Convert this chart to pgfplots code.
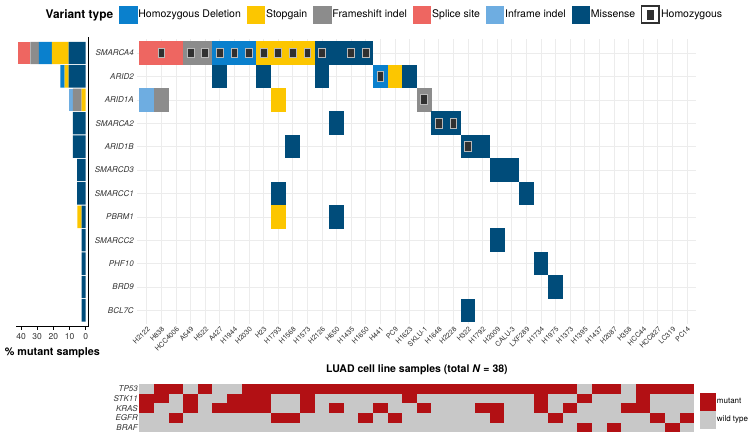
\documentclass[border=0pt]{standalone}
\usepackage{fontspec}
\setmainfont{TeX Gyre Heros}
\usepackage{pgfplots}
\pgfplotsset{compat=1.18}
\usepackage{pgfplotstable}

\definecolor{hdel}{RGB}{10,128,205}
\definecolor{stopg}{RGB}{252,198,0}
\definecolor{fshift}{RGB}{140,140,140}
\definecolor{splice}{RGB}{238,102,97}
\definecolor{infr}{RGB}{110,173,225}
\definecolor{miss}{RGB}{0,76,122}
\definecolor{homfill}{RGB}{48,48,48}
\definecolor{homedge}{RGB}{185,185,185}
\definecolor{mut}{RGB}{178,16,20}
\definecolor{wt}{RGB}{200,200,200}

% tiles in pt, one unit of the axes
\pgfdeclareplotmark{tile}{\pgfpathrectangle{\pgfpoint{-7.4pt}{-11.8pt}}{\pgfpoint{14.8pt}{23.6pt}}\pgfusepathqfill}
\pgfdeclareplotmark{hom}{\pgfpathrectangle{\pgfpoint{-3.4pt}{-4.9pt}}{\pgfpoint{6.8pt}{9.8pt}}\pgfusepathqfillstroke}
\pgfdeclareplotmark{htile}{\pgfpathrectangle{\pgfpoint{-7.4pt}{-4.9pt}}{\pgfpoint{14.8pt}{9.8pt}}\pgfusepathqfill}

\pgfplotstableread{
s TP53 STK11 KRAS EGFR BRAF
1 0 1 1 0 0
2 1 1 0 0 0
3 1 0 0 1 0
4 0 1 1 0 0
5 1 0 0 0 0
6 0 0 1 0 0
7 0 1 1 0 0
8 1 1 1 0 0
9 1 1 1 0 0
10 1 0 0 1 0
11 1 0 0 1 0
12 1 1 1 0 0
13 1 0 0 0 0
14 1 0 1 0 0
15 1 0 0 0 0
16 1 0 0 1 0
17 1 0 1 0 0
18 1 0 0 1 0
19 1 1 0 0 0
20 1 0 1 0 0
21 1 0 0 0 0
22 1 0 0 0 0
23 1 0 0 0 0
24 1 0 1 0 0
25 1 0 1 1 0
26 1 0 0 0 0
27 1 0 0 0 0
28 1 1 1 0 0
29 1 0 0 1 0
30 1 0 1 0 0
31 0 1 0 0 1
32 1 0 0 0 0
33 1 0 0 0 1
34 0 0 1 0 0
35 1 1 1 0 0
36 1 0 0 1 0
37 1 0 0 0 1
38 1 0 0 1 0
}\muttab

\pgfplotsset{
  hm/.style={scatter, only marks, scatter src=explicit symbolic,
    scatter/classes={0={mark=htile, fill=wt, draw=wt}, 1={mark=htile, fill=mut, draw=mut}}},
}

\begin{document}
\begin{tikzpicture}
\useasboundingbox (0,0) rectangle (753pt,438pt);

% ---- % mutant samples ----
\begin{axis}[
  at={(88.7pt,401.1pt)}, anchor=north east,
  x=1.617pt, y=23.4pt, x dir=reverse,
  xmin=-1.85, xmax=43.1, ymin=0.31, ymax=12.69,
  xbar stacked, bar width=22.4pt,
  axis line style={draw=none},
  xtick={0,10,20,30,40}, ytick=\empty, xtick pos=left,
  extra x ticks={-1.85}, extra x tick labels={},
  extra x tick style={xmajorgrids, major tick length=0pt,
    major grid style={black, line width=0.8pt}},
  extra y ticks={0.31}, extra y tick labels={},
  extra y tick style={ymajorgrids, major tick length=0pt,
    major grid style={black, line width=0.8pt}},
  tick align=outside, major tick length=3pt,
  tick style={black, line width=0.6pt},
  /pgf/number format/assume math mode=true,
  xticklabel style={font=\fontsize{8.5}{8.5}\selectfont, text=black!80},
  xlabel={\bfseries\% mutant samples},
  xlabel style={font=\fontsize{10.8}{10.8}\selectfont, yshift=2pt},
]
\addplot[fill=miss, draw=none] coordinates {(10.5,12)(10.5,11)(0,10)(7.9,9)(7.9,8)(5.3,7)(5.3,6)(2.6,5)(2.6,4)(2.6,3)(2.6,2)(2.6,1)};
\addplot[fill=stopg, draw=none] coordinates {(10.5,12)(2.6,11)(2.6,10)(0,9)(0,8)(0,7)(0,6)(2.6,5)(0,4)(0,3)(0,2)(0,1)};
\addplot[fill=hdel, draw=none] coordinates {(7.9,12)(2.6,11)(0,10)(0,9)(0,8)(0,7)(0,6)(0,5)(0,4)(0,3)(0,2)(0,1)};
\addplot[fill=fshift, draw=none] coordinates {(5.3,12)(0,11)(5.3,10)(0,9)(0,8)(0,7)(0,6)(0,5)(0,4)(0,3)(0,2)(0,1)};
\addplot[fill=splice, draw=none] coordinates {(7.9,12)(0,11)(0,10)(0,9)(0,8)(0,7)(0,6)(0,5)(0,4)(0,3)(0,2)(0,1)};
\addplot[fill=infr, draw=none] coordinates {(0,12)(0,11)(2.6,10)(0,9)(0,8)(0,7)(0,6)(0,5)(0,4)(0,3)(0,2)(0,1)};
\end{axis}

% ---- main oncoprint ----
\begin{axis}[
  at={(137.3pt,399pt)}, anchor=north west,
  x=14.6pt, y=23.4pt, y dir=reverse,
  xmin=0.35, xmax=38.6, ymin=0.4, ymax=12.6,
  axis line style={draw=none},
  xmajorgrids, ymajorgrids,
  major grid style={gray!15, line width=0.6pt},
  major tick length=0pt,
  xtick={1,...,38}, ytick={1,...,12},
  xticklabels={H2122,H838,HCC4006,A549,H522,A427,H1944,H2030,H23,H1793,H1568,H1573,H2126,H650,H1435,H1650,H441,PC9,H1623,SKLU-1,H1648,H2228,H322,H1792,H2009,CALU-3,LXF289,H1734,H1975,H1373,H1395,H1437,H2087,H358,HCC44,HCC827,LC319,PC14},
  yticklabels={SMARCA4,ARID2,ARID1A,SMARCA2,ARID1B,SMARCD3,SMARCC1,PBRM1,SMARCC2,PHF10,BRD9,BCL7C},
  xticklabel style={rotate=45, anchor=north east, inner sep=1pt, font=\fontsize{7}{7}\selectfont, text=black!80},
  yticklabel style={font=\fontsize{8}{8}\selectfont\itshape, text=black!80},
  legend columns=-1,
  legend style={at={(-0.167,1.0858)}, anchor=west, draw=none, fill=none, inner sep=0pt,
    /tikz/column sep=0pt, /tikz/every even column/.append style={column sep=4.5pt},
    nodes={inner sep=1.4pt}, font=\fontsize{10.5}{10.5}\selectfont},
]
\addlegendimage{empty legend}
\addlegendentry{\fontsize{11.9}{11.9}\selectfont\bfseries Variant type}
\addlegendimage{legend image code/.code={\fill[hdel] (0pt,-8.5pt) rectangle (17.5pt,8.5pt);}}
\addlegendentry{Homozygous Deletion}
\addlegendimage{legend image code/.code={\fill[stopg] (0pt,-8.5pt) rectangle (17.5pt,8.5pt);}}
\addlegendentry{Stopgain}
\addlegendimage{legend image code/.code={\fill[fshift] (0pt,-8.5pt) rectangle (17.5pt,8.5pt);}}
\addlegendentry{Frameshift indel}
\addlegendimage{legend image code/.code={\fill[splice] (0pt,-8.5pt) rectangle (17.5pt,8.5pt);}}
\addlegendentry{Splice site}
\addlegendimage{legend image code/.code={\fill[infr] (0pt,-8.5pt) rectangle (17.5pt,8.5pt);}}
\addlegendentry{Inframe indel}
\addlegendimage{legend image code/.code={\fill[miss] (0pt,-8.5pt) rectangle (17.5pt,8.5pt);}}
\addlegendentry{Missense}
\addlegendimage{legend image code/.code={\draw[homfill, fill=white, line width=1.3pt] (0.65pt,-8.5pt) rectangle (17.85pt,8.5pt); \fill[homfill] (5.7pt,-4.5pt) rectangle (12.3pt,4.5pt);}}
\addlegendentry{Homozygous}

\addplot[only marks, mark=tile, color=splice, forget plot] coordinates {(1,1)(2,1)(3,1)};
\addplot[only marks, mark=tile, color=fshift, forget plot] coordinates {(4,1)(5,1)(2,3)(20,3)};
\addplot[only marks, mark=tile, color=hdel, forget plot] coordinates {(6,1)(7,1)(8,1)(17,2)};
\addplot[only marks, mark=tile, color=stopg, forget plot] coordinates {(9,1)(10,1)(11,1)(12,1)(18,2)(10,3)(10,8)};
\addplot[only marks, mark=tile, color=infr, forget plot] coordinates {(1,3)};
\addplot[only marks, mark=tile, color=miss, forget plot] coordinates {
  (13,1)(14,1)(15,1)(16,1)(6,2)(9,2)(13,2)(19,2)(14,4)(21,4)(22,4)(11,5)(23,5)(24,5)
  (25,6)(26,6)(10,7)(27,7)(14,8)(25,9)(28,10)(29,11)(23,12)};
\addplot[only marks, mark=hom, mark options={fill=homfill, draw=homedge, line width=0.9pt}, forget plot] coordinates {
  (2,1)(4,1)(5,1)(6,1)(7,1)(8,1)(9,1)(10,1)(11,1)(12,1)(13,1)(15,1)(16,1)
  (17,2)(20,3)(21,4)(22,4)(23,5)};
\end{axis}

% ---- co-mutation heatmap ----
\begin{axis}[
  at={(139.5pt,53.7pt)}, anchor=north west,
  x=14.6pt, y=9.6pt, y dir=reverse,
  xmin=0.5, xmax=38.5, ymin=0.5, ymax=5.5,
  axis line style={draw=none},
  major tick length=0pt,
  xtick=\empty, ytick={1,...,5},
  yticklabels={TP53,STK11,KRAS,EGFR,BRAF},
  yticklabel style={font=\fontsize{8}{8}\selectfont\itshape, text=black!80, inner sep=1.5pt},
  title={\bfseries LUAD cell line samples (total \textit{N} = 38)},
  title style={font=\fontsize{10.5}{10.5}\selectfont, at={(0.5,1.17)}, anchor=center},
  legend style={at={(1.0103,0.819)}, anchor=north west, draw=none, fill=none,
    inner sep=0pt, /tikz/row sep=0pt, /tikz/column sep=0pt,
    nodes={inner sep=0pt, font=\fontsize{8}{8}\selectfont}},
  legend cell align=left,
]
\addlegendimage{legend image code/.code={\fill[mut] (0pt,-8.5pt) rectangle (15pt,8.5pt);}}
\addlegendentry{\,mutant}
\addlegendimage{legend image code/.code={\fill[wt] (0pt,-8.5pt) rectangle (15pt,8.5pt);}}
\addlegendentry{\,wild type}
\addplot[hm, forget plot] table[x=s, y expr=1, meta=TP53] {\muttab};
\addplot[hm, forget plot] table[x=s, y expr=2, meta=STK11] {\muttab};
\addplot[hm, forget plot] table[x=s, y expr=3, meta=KRAS] {\muttab};
\addplot[hm, forget plot] table[x=s, y expr=4, meta=EGFR] {\muttab};
\addplot[hm, forget plot] table[x=s, y expr=5, meta=BRAF] {\muttab};
\end{axis}
\end{tikzpicture}
\end{document}
